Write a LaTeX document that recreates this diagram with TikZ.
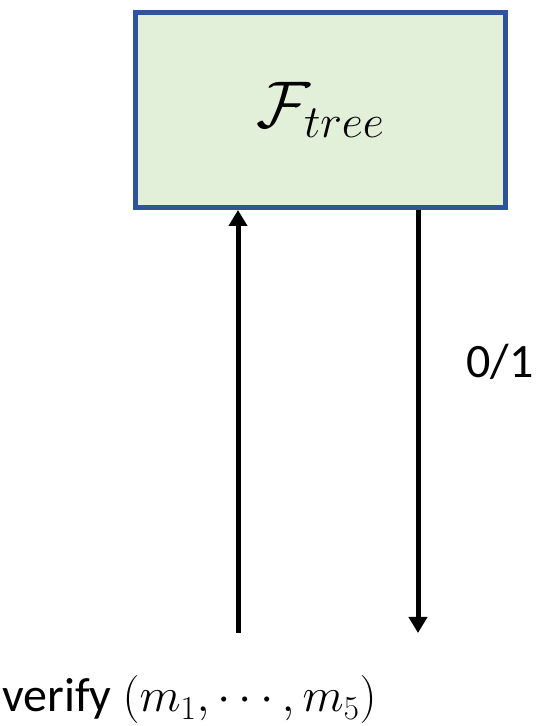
\documentclass[tikz,border=0pt]{standalone}
\usepackage{fix-cm}
\usepackage{fontspec}
\setmainfont{Carlito}
\usetikzlibrary{arrows.meta,positioning}
\definecolor{funcfill}{HTML}{E2EFD9}
\definecolor{funcline}{HTML}{2F5597}

\begin{document}
\begin{tikzpicture}[x=1pt,y=1pt,
    func/.style={draw=funcline,fill=funcfill,line width=5pt,
      minimum width=370pt,minimum height=195pt,inner sep=0pt,
      font=\fontsize{66}{72}\selectfont},
    msg/.style={line width=5pt,-{Triangle[width=18pt,length=16pt]}},
    lbl/.style={inner sep=0pt,font=\fontsize{48}{54}\selectfont}]
  \useasboundingbox (0,0) rectangle (536,726);

  \node[func] (Ftree) at (320.5,616) {$\mathcal{F}_{tree}$\hspace{20pt}};
  \coordinate (inA)  at (238,93);
  \coordinate (outB) at (418,93);

  \draw[msg] (inA) -- (inA |- Ftree.south);
  \draw[msg] (Ftree.south -| outB) -- (outB);

  \node[lbl]                   (res) at (500,364) {0/1};
  \node[lbl,anchor=base west] (req) at (2,14)    {verify $(m_1,\cdots,m_5)$};
\end{tikzpicture}
\end{document}
